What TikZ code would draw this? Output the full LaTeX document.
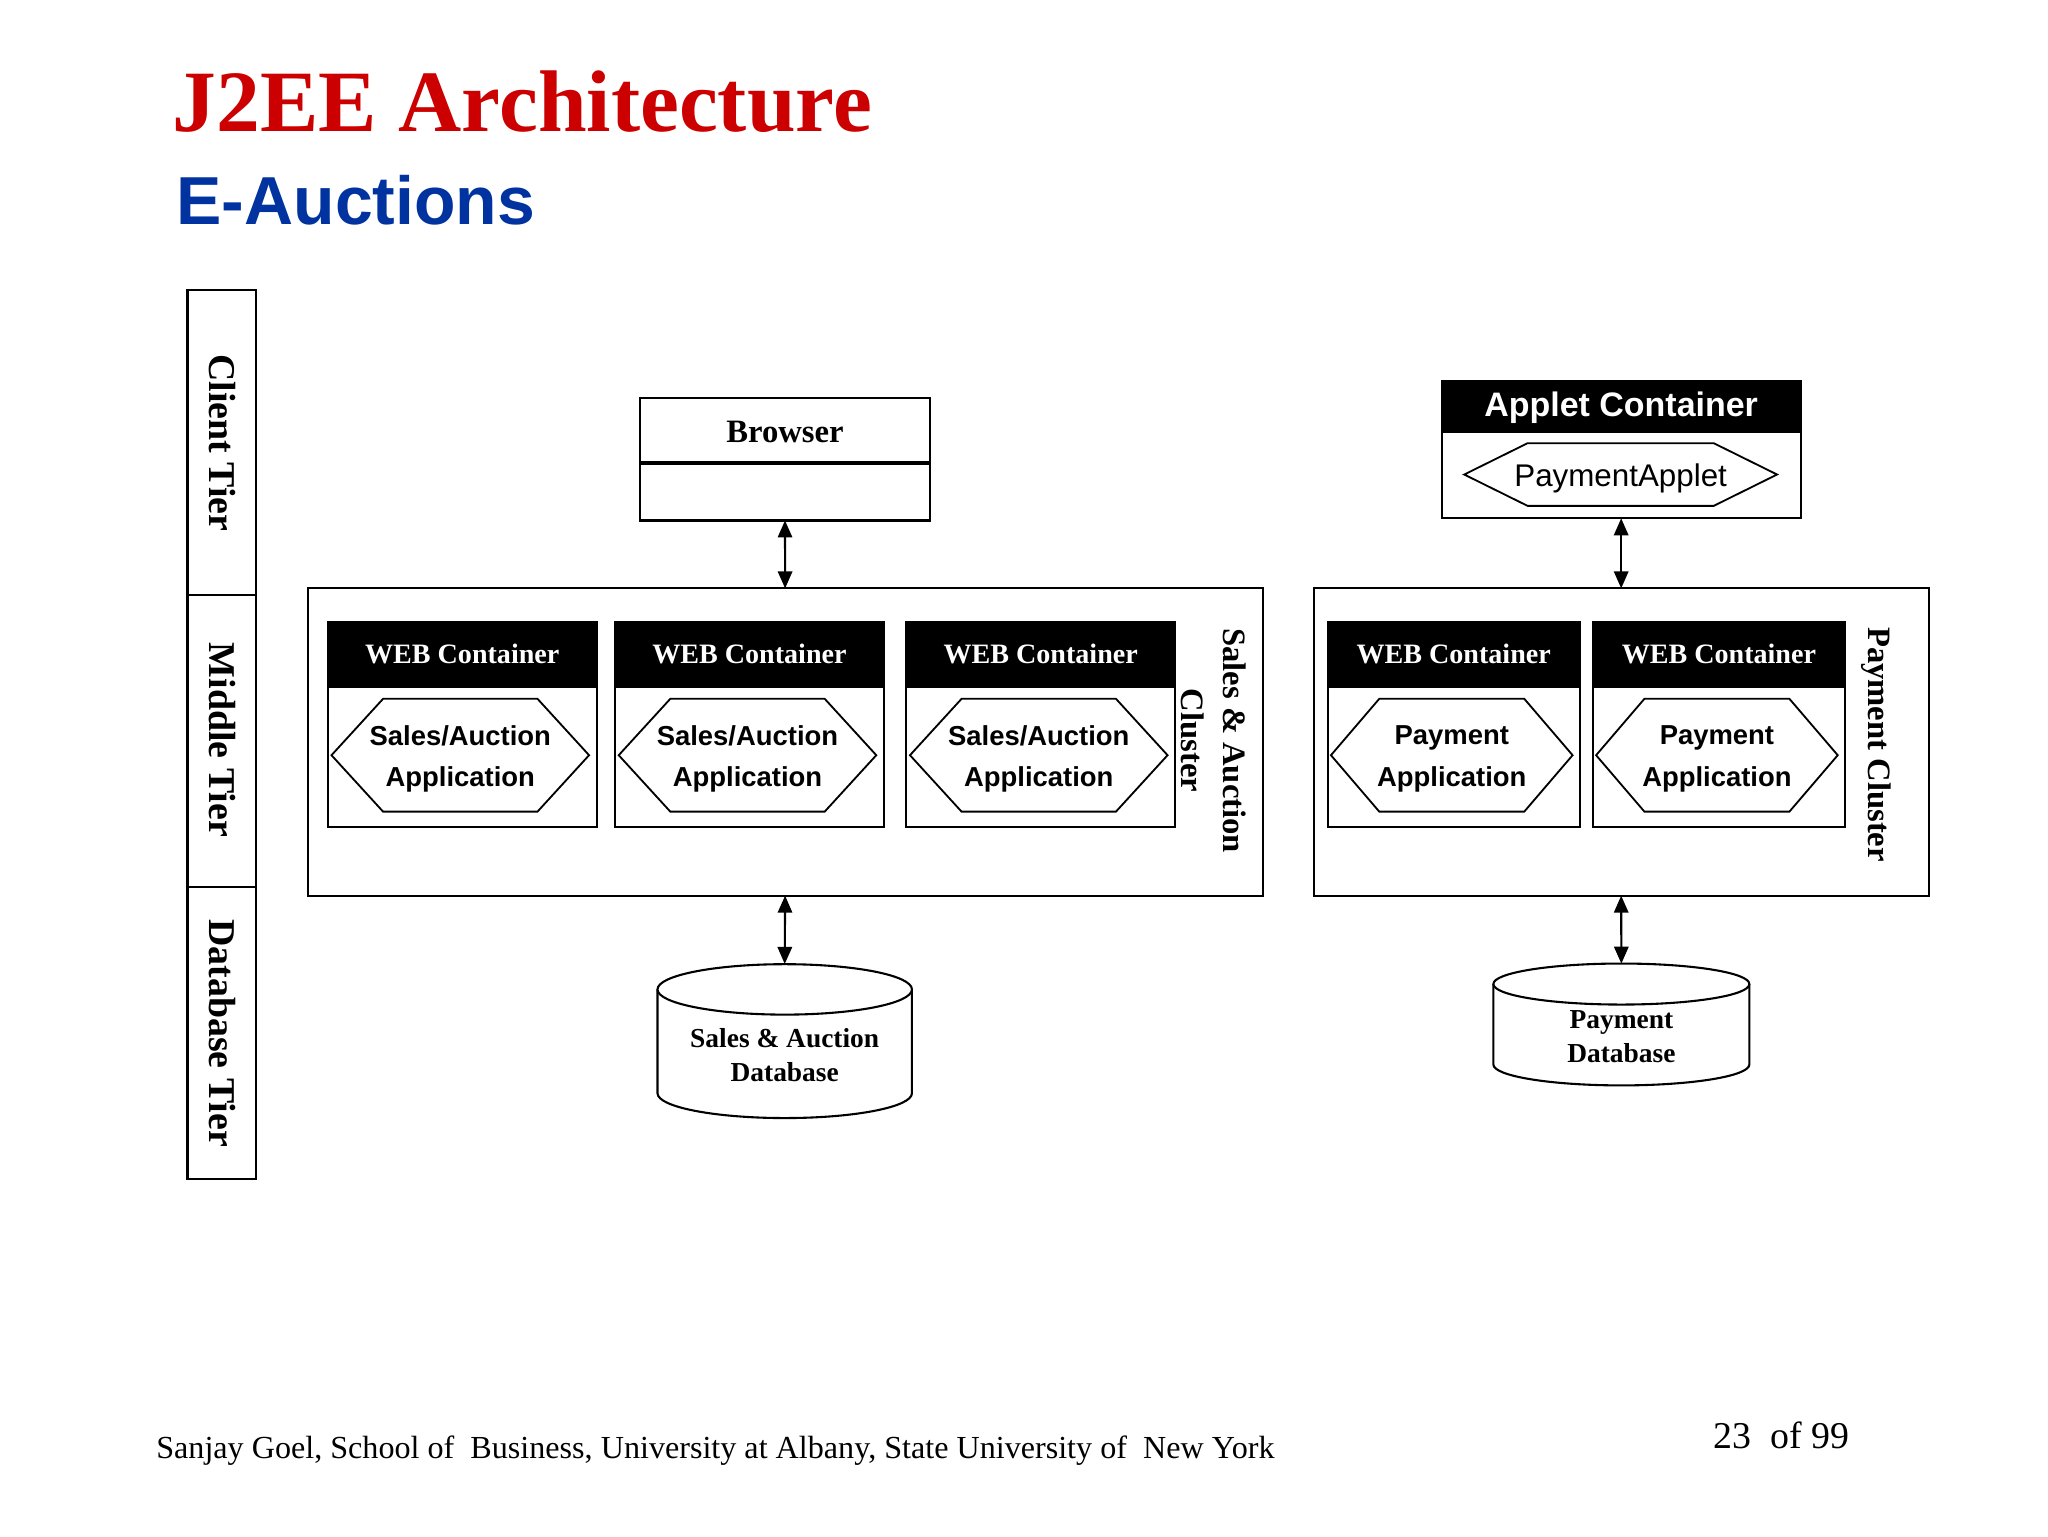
\documentclass[tikz,border=0pt]{standalone}
\usepackage{fontspec}
\setmainfont{Liberation Serif}
\setsansfont{Liberation Sans}
\usetikzlibrary{arrows.meta}
\definecolor{titlered}{RGB}{204,0,0}
\definecolor{titleblue}{RGB}{0,51,160}
\newcommand\hexoutline[2]{\draw[hexline] (#1.west) -- ([xshift=#2]#1.north west) -- ([xshift=-#2]#1.north east) -- (#1.east) -- ([xshift=-#2]#1.south east) -- ([xshift=#2]#1.south west) -- cycle;}
\tikzset{
  frame/.style={draw=black, line width=1.6pt, inner sep=0pt, outer sep=0pt, fill=white},
  hdr/.style={fill=black, draw=black, line width=1.6pt, inner sep=0pt, outer sep=0pt, text=white},
  webhdr/.style={hdr, font=\bfseries\fontsize{21.5}{21.5}\selectfont},
  hexbox/.style={inner sep=0pt, outer sep=0pt, draw=none},
  hexline/.style={line width=1.4pt, line join=miter},
  apptext/.style={align=center, font=\sffamily\bfseries\fontsize{21}{31.7}\selectfont, inner sep=0pt},
  dbtext/.style={align=center, font=\bfseries\fontsize{21}{26}\selectfont, inner sep=0pt},
  conn/.style={line width=1.6pt, {Triangle[length=13pt,width=11pt]}-{Triangle[length=13pt,width=11pt]}},
  tierlabel/.style={rotate=-90, font=\bfseries\fontsize{29}{29}\selectfont, inner sep=0pt},
  clusterlabel/.style={rotate=-90, align=center, font=\bfseries\fontsize{25}{32}\selectfont, inner sep=0pt},
  cyl/.style={line width=1.6pt, fill=white},
}
\begin{document}
\begin{tikzpicture}[x=1pt,y=-1pt]
\useasboundingbox[fill=white] (0,0) rectangle (1568,1176);

% titles
\node[anchor=base west, inner sep=0pt, text=titlered, font=\bfseries\fontsize{67}{67}\selectfont] (title) at (132,101) {J2EE Architecture};
\node[anchor=base west, inner sep=0pt, text=titleblue, font=\sffamily\bfseries\fontsize{52}{52}\selectfont] (subtitle) at (135,172) {E-Auctions};

% tier column
\node[frame, minimum width=52.5pt, minimum height=233.7pt] (tclient) at (169.8,338.7) {};
\node[frame, minimum width=52.5pt, minimum height=223.3pt] (tmiddle) at (169.8,567.3) {};
\node[frame, minimum width=52.5pt, minimum height=224pt] (tdb) at (169.8,791) {};
\node[tierlabel] (lclient) at (170,339) {Client Tier};
\node[tierlabel] (lmiddle) at (170,566.5) {Middle Tier};
\node[tierlabel] (ldb) at (170,791) {Database Tier};

% browser
\node[frame, minimum width=222pt, minimum height=93.7pt] (browser) at (601,351.65) {};
\draw[line width=2.6pt] (browser.west |- 0,354.6) -- (browser.east |- 0,354.6);
\node[inner sep=0pt, font=\bfseries\fontsize{25}{25}\selectfont] (browsertext) at (601,331) {Browser};

% sales & auction cluster
\node[frame, minimum width=731.2pt, minimum height=235.3pt] (sac) at (601.1,568.1) {};
\node[clusterlabel] (saclabel) at (929,567) {Sales \& Auction\\Cluster};

\foreach \i/\cx in {1/353.9, 2/573.8, 3/796.8}{
  \node[frame, minimum width=206.2pt, minimum height=157pt] (wc\i) at (\cx,554.8) {};
  \node[webhdr, minimum width=206.2pt, minimum height=49.3pt, anchor=north] (wch\i) at (wc\i.north) {WEB Container};
  \node[hexbox, minimum width=197.2pt, minimum height=86.4pt] (hx\i) at (\cx-1.5,578.2) {};
  \hexoutline{hx\i}{39.5pt}
  \node[apptext] (app\i) at (\cx-1.5,581) {Sales/Auction\\Application};
}

% applet container
\node[frame, minimum width=274.7pt, minimum height=105.5pt] (applet) at (1241.2,344.1) {};
\node[hdr, minimum width=274.7pt, minimum height=39.6pt, anchor=north] (applethdr) at (applet.north) {};
\node[inner sep=0pt, text=white, font=\sffamily\bfseries\fontsize{26}{26}\selectfont] (applethdrtext) at (1241.2,312) {Applet Container};
\node[hexbox, minimum width=239.5pt, minimum height=48pt] (apphex) at (1240.8,363.3) {};
\hexoutline{apphex}{48.5pt}
\node[inner sep=0pt, font=\sffamily\fontsize{24}{24}\selectfont] (applettext) at (1240.8,366.5) {PaymentApplet};

% payment cluster
\node[frame, minimum width=471pt, minimum height=235.3pt] (pc) at (1241.2,568.1) {};
\node[clusterlabel] (pclabel) at (1436.5,570) {Payment Cluster};
\foreach \i/\cx in {4/1113, 5/1316}{
  \node[frame, minimum width=193pt, minimum height=157pt] (wc\i) at (\cx,554.8) {};
  \node[webhdr, minimum width=193pt, minimum height=49.3pt, anchor=north] (wch\i) at (wc\i.north) {WEB Container};
  \node[hexbox, minimum width=185pt, minimum height=86.4pt] (hx\i) at (\cx-1.5,578.2) {};
  \hexoutline{hx\i}{37pt}
  \node[apptext] (app\i) at (\cx-1.5,581) {Payment\\Application};
}

% databases
\node[inner sep=0pt, outer sep=0pt, minimum width=194.8pt, minimum height=118pt] (sadb) at (600.8,797) {};
\draw[cyl] (503.4,757.5) -- (503.4,837) arc[start angle=180, end angle=360, x radius=97.4pt, y radius=19pt] -- (698.2,757.5);
\draw[cyl] (600.8,757.5) ellipse[x radius=97.4pt, y radius=19.3pt];
\node[dbtext] (sadbtext) at (600.8,808) {Sales \& Auction\\Database};

\node[inner sep=0pt, outer sep=0pt, minimum width=196pt, minimum height=93.3pt] (paydb) at (1241.35,784.4) {};
\draw[cyl] (1143.35,753.4) -- (1143.35,815) arc[start angle=180, end angle=360, x radius=98pt, y radius=16pt] -- (1339.35,753.4);
\draw[cyl] (1241.35,753.4) ellipse[x radius=98pt, y radius=15.7pt];
\node[dbtext] (paydbtext) at (1241.35,794) {Payment\\Database};

% connectors
\draw[conn] (browser.south) -- (sac.north);
\draw[conn] (sac.south) -- (sadb.north);
\draw[conn] (applet.south) -- (pc.north);
\draw[conn] (pc.south) -- (paydb.north);

% footer
\node[anchor=base west, inner sep=0pt, font=\fontsize{24.6}{24.6}\selectfont] (footer) at (119.5,1117) {Sanjay Goel, School of~ Business, University at Albany, State University of~ New York};
\node[anchor=base west, inner sep=0pt, font=\fontsize{29}{29}\selectfont] (pagenum) at (1312,1109) {23~ of 99};
\end{tikzpicture}
\end{document}
